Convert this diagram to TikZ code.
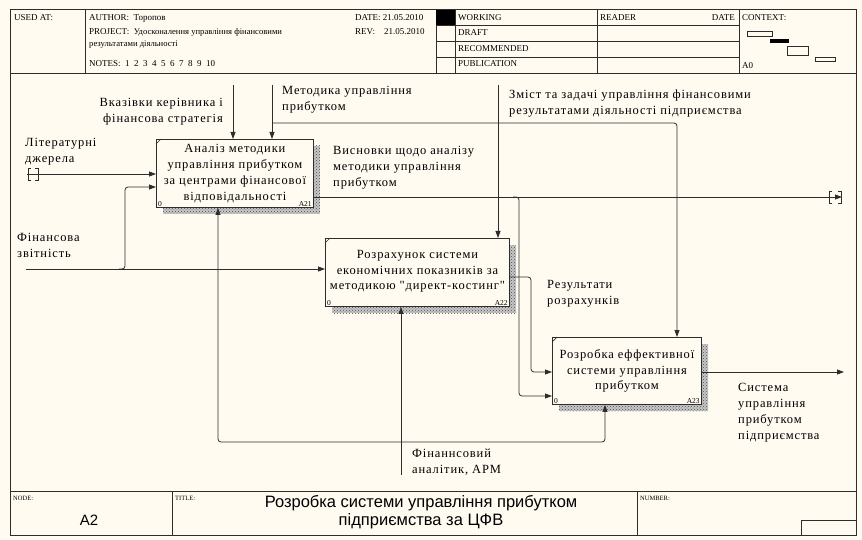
\documentclass[tikz,border=0pt]{standalone}
\usepackage{fontspec}
\setmainfont{Liberation Serif}
\newfontfamily\dfam[LetterSpace=7]{Liberation Serif}
\newfontfamily\tfam{Liberation Sans}
\usetikzlibrary{arrows.meta,patterns}
\definecolor{bgc}{RGB}{255,251,241}
\definecolor{ln}{RGB}{45,45,45}
\newcommand\dfont{\dfam\fontsize{12.5}{15.8}\selectfont}
\newcommand\hfont{\fontsize{9}{10}\selectfont}
\newcommand\sfont{\fontsize{6.5}{7}\selectfont}
\newcommand\ifont{\fontsize{7.5}{8}\selectfont}
\begin{document}
\begin{tikzpicture}[x=1pt,y=-1pt,
  frame/.style={draw=ln,line width=1pt},
  thin/.style={draw=ln,line width=0.7pt},
  box/.style={draw=ln,fill=bgc,line width=0.9pt,inner sep=0pt,anchor=north west,align=center,font=\dfont},
  shadefill/.style={fill=black!22},
  shade/.style={pattern=crosshatch dots,pattern color=black!70},
  conn/.style={draw=ln,line width=0.8pt,rounded corners=3pt},
  arr/.style={conn,-{Triangle[length=7pt,width=5pt]}},
  lbl/.style={font=\dfont,align=left,inner sep=0pt,anchor=north west},
  hdr/.style={font=\hfont,inner sep=0pt,anchor=base west},
  sml/.style={font=\sfont,inner sep=0pt,anchor=base west},
  idx/.style={font=\ifont,inner sep=0pt}]
\fill[bgc] (0,0) rectangle (862,540);
\useasboundingbox (0,0) rectangle (862,540);
% ---------- frame ----------
\draw[frame] (10,10) rectangle (856,535);
\draw[frame] (10,74) -- (856,74);
\draw[frame] (10,491) -- (856,491);
\foreach \x in {85,436,455,597,739} \draw[thin] (\x,10) -- (\x,74);
\foreach \y in {25.5,41,57} \draw[thin] (436,\y) -- (739,\y);
\draw[thin] (172,491) -- (172,535);
\draw[thin] (637,491) -- (637,535);
\draw[thin] (801,520) -- (801,535) (801,520) -- (856,520);
% ---------- header text ----------
\node[hdr] (usedat) at (14,21) {USED AT:};
\node[hdr] (author) at (89,21) {AUTHOR:\ \ Торопов};
\node[hdr] (project) at (89,35) {PROJECT:\ \ {\fontsize{8.6}{10}\selectfont Удосконалення управління фінансовими}};
\node[hdr] (project2) at (89,47) {{\fontsize{8.6}{10}\selectfont результатами діяльності}};
\node[hdr] (notes) at (89,67) {NOTES:\ \ 1\ \ 2\ \ 3\ \ 4\ \ 5\ \ 6\ \ 7\ \ 8\ \ 9\ \ 10};
\begin{scope}
\clip (340,10) rectangle (436,74);
\node[hdr] (date) at (355,21) {DATE:\ 21.05.2010};
\node[hdr] (rev) at (355,35) {REV:\ \ \ \ 21.05.2010};
\end{scope}
\fill[black] (436,10) rectangle (455,25.5);
\node[hdr] (working) at (458,21) {WORKING};
\node[hdr] (draft) at (458,36) {DRAFT};
\node[hdr] (recom) at (458,52) {RECOMMENDED};
\node[hdr] (public) at (458,67) {PUBLICATION};
\node[hdr] (reader) at (600,21) {READER};
\node[hdr,anchor=base east] (rdate) at (735,21) {DATE};
\node[hdr] (context) at (742,21) {CONTEXT:};
\node[hdr] (azero) at (742,69) {A0};
\draw[thin] (747,31) rectangle (772,36);
\fill[black] (770,39) rectangle (789,43.5);
\draw[thin] (787,46) rectangle (808,55);
\draw[thin] (815,57) rectangle (835,61);
% ---------- footer ----------
\node[sml] (nodelbl) at (13,500) {NODE:};
\node[sml] (titlelbl) at (175,500) {TITLE:};
\node[sml] (numlbl) at (640,500) {NUMBER:};
\node[font=\tfam\fontsize{15}{16}\selectfont,inner sep=0pt] (nodeid) at (89,520) {A2};
\node[font=\tfam\fontsize{16.5}{18}\selectfont,inner sep=0pt,align=center] (title) at (421,512.5) {Розробка системи управління прибутком\\підприємства за ЦФВ};
% ---------- boxes ----------
\fill[shadefill] (163,146) rectangle (320,214);
\fill[shadefill] (332,245) rectangle (516,313);
\fill[shadefill] (559,344) rectangle (708,411);
\fill[shade] (163,146) rectangle (320,214);
\fill[shade] (332,245) rectangle (516,313);
\fill[shade] (559,344) rectangle (708,411);
\node[box,minimum width=157pt,minimum height=68pt] (a21) at (156,139) {Аналіз методики\\управління прибутком\\за центрами фінансової\\відповідальності};
\node[box,minimum width=184pt,minimum height=68pt,text depth=5pt] (a22) at (325,238) {Розрахунок системи\\економічних показників за\\методикою "директ-костинг"};
\node[box,minimum width=149pt,minimum height=67pt] (a23) at (552,337) {Розробка еффективної\\системи управління\\прибутком};
\foreach \b/\n in {a21/A21,a22/A22,a23/A23}{
  \draw[thin] (\b.north west) ++(0,5) -- ++(5,-5);
  \node[idx,anchor=south west] (\b zero) at ([shift={(2,-1)}]\b.south west) {0};
  \node[idx,anchor=south east] (\b num) at ([shift={(-2,-1)}]\b.south east) {\n};
}
% ---------- controls ----------
\coordinate (vkS) at (233,85);
\draw[arr] (vkS) -- (vkS |- a21.north);
\coordinate (mtS) at (272,85);
\draw[arr] (mtS) -- (mtS |- a21.north);
\coordinate (mtJ) at (272,123);
\coordinate (mtT) at (677,123);
\draw[arr] (mtJ) -- (mtT) -- (mtT |- a23.north);
\coordinate (zmS) at (498,85);
\draw[arr] (zmS) -- (zmS |- a22.north);
% ---------- inputs ----------
\coordinate (litS) at (27,174);
\draw[arr] (litS) -- (litS -| a21.west);
\draw[thin] (31,168) -- (28,168) -- (28,180) -- (31,180);
\draw[thin] (35,168) -- (38,168) -- (38,180) -- (35,180);
\coordinate (finS) at (26,269);
\draw[arr] (finS) -- (finS -| a22.west);
\coordinate (finJ) at (119,269);
\coordinate (finC1) at (125,269);
\coordinate (finC2) at (125,187);
\draw[arr] (finJ) -- (finC1) -- (finC2) -- (finC2 -| a21.west);
% ---------- outputs ----------
\coordinate (visS) at (313,197);
\coordinate (visE) at (842,197);
\draw[arr] (visS -| a21.east) -- (visE);
\draw[thin] (832,191) -- (829,191) -- (829,203) -- (832,203);
\draw[thin] (838,191) -- (841,191) -- (841,203) -- (838,203);
\coordinate (visJ) at (513,197);
\coordinate (visC1) at (519,197);
\coordinate (visC2) at (519,396);
\draw[arr] (visJ) -- (visC1) -- (visC2) -- (visC2 -| a23.west);
\coordinate (rezC1) at (531,277);
\coordinate (rezC2) at (531,372);
\draw[arr] (rezC1 -| a22.east) -- (rezC1) -- (rezC2) -- (rezC2 -| a23.west);
\coordinate (sysE) at (844,372);
\draw[arr] (sysE -| a23.east) -- (sysE);
% ---------- mechanisms ----------
\coordinate (anS) at (401,475);
\draw[arr] (anS) -- (anS |- a22.south);
\coordinate (anJ) at (401,442);
\coordinate (anL) at (218,442);
\coordinate (anR) at (605,442);
\draw[arr] (anJ) -- (anL) -- (anL |- a21.south);
\draw[arr] (anJ) -- (anR) -- (anR |- a23.south);
% ---------- labels ----------
\node[lbl,align=right,anchor=north east] (vkL) at (223,98) {Вказівки керівника і\\фінансова стратегія};
\node[lbl] (mtL) at (282,86.5) {Методика управління\\прибутком};
\node[lbl] (zmL) at (509,89.5) {Зміст та задачі управління фінансовими\\результатами діяльності підприємства};
\node[lbl] (litL) at (25,138.5) {Літературні\\джерела};
\node[lbl] (finL) at (17,233.5) {Фінансова\\звітність};
\node[lbl] (visL) at (333,146.5) {Висновки щодо аналізу\\методики управління\\прибутком};
\node[lbl] (rezL) at (547,280.5) {Результати\\розрахунків};
\node[lbl] (sysL) at (738,383.5) {Система\\управління\\прибутком\\підприємства};
\node[lbl] (anL2) at (412,448.5) {Фінаннсовий\\аналітик, АРМ};
\end{tikzpicture}
\end{document}
